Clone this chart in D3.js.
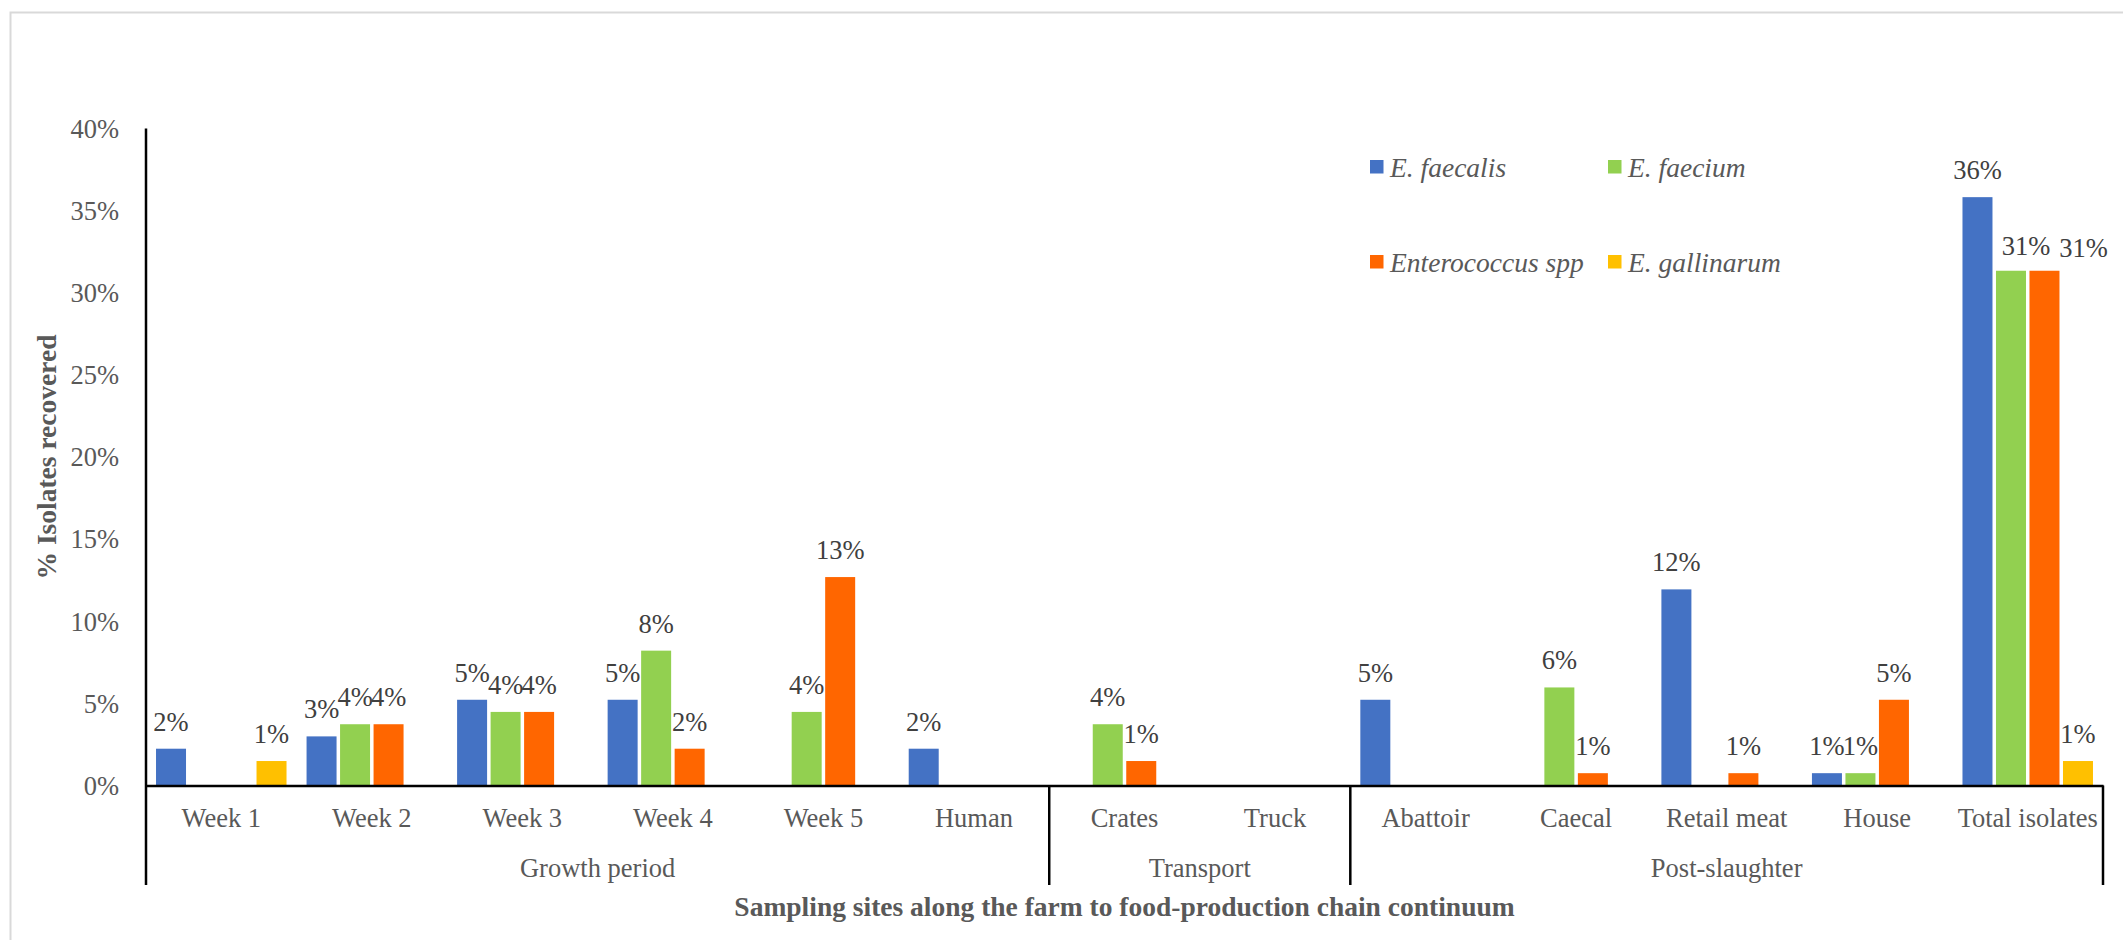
<!DOCTYPE html>
<html>
<head>
<meta charset="utf-8">
<script src="https://cdn.jsdelivr.net/npm/d3@7"></script>
<style>
  html, body { margin: 0; padding: 0; background: #ffffff; }
  svg { display: block; }
  text { font-family: "Liberation Serif", "Times New Roman", serif; }
</style>
</head>
<body>
<svg id="chart" width="2123" height="940" font-family="Liberation Serif"></svg>
<script>
// Sampling sites (x categories) and the stage each run of sites belongs to
const categories = ["Week 1", "Week 2", "Week 3", "Week 4", "Week 5", "Human",
                    "Crates", "Truck",
                    "Abattoir", "Caecal", "Retail meat", "House", "Total isolates"];
const groupNames = ["Growth period", "Transport", "Post-slaughter"];
const groupSizes = [6, 2, 5];

// Species shown as bars, in drawing order
const seriesNames = ["E. faecalis", "E. faecium", "Enterococcus spp", "E. gallinarum"];
const seriesColors = ["#4472C4", "#92D050", "#FF6600", "#FFC000"];

// % of isolates recovered at each site (null = none recovered)
const faecalis   = [2.24, 2.99, 5.22, 5.22, null, 2.24, null, null, 5.22, null, 11.94, 0.75, 35.82];
const faecium    = [null, 3.73, 4.48, 8.21, 4.48, null, 3.73, null, null, 5.97, null, 0.75, 31.34];
const sppValues  = [null, 3.73, 4.48, 2.24, 12.69, null, 1.49, null, null, 0.75, 0.75, 5.22, 31.34];
const gallinarum = [1.49, null, null, null, null, null, null, null, null, null, null, null, 1.49];
const seriesValues = [faecalis, faecium, sppValues, gallinarum];

// Y-axis ticks (percent)
const yTicks = [0, 5, 10, 15, 20, 25, 30, 35, 40];

const svg = d3.select("#chart");
const W = 2123, H = 940;

// outer chart frame
svg.append("rect")
  .attr("x", 10.5).attr("y", 12.5)
  .attr("width", W + 20).attr("height", H + 20)
  .attr("fill", "#ffffff")
  .attr("stroke", "#d9d9d9").attr("stroke-width", 2);

const plot = { left: 146, right: 2103, top: 128.5, bottom: 785.5, axisFoot: 885 };

const x0 = d3.scaleBand()
  .domain(categories)
  .range([plot.left, plot.right])
  .paddingInner(0.1331)
  .paddingOuter(0.1331 / 2);

const x1 = d3.scaleBand()
  .domain(seriesNames)
  .range([0, x0.bandwidth()])
  .paddingInner(0.1045)
  .paddingOuter(0);

const y = d3.scaleLinear().domain([0, 40]).range([plot.bottom, plot.top]);

const pct = d3.format(".0%");
const textGray = "#595959";

// Y tick labels
const yAxis = svg.append("g")
  .attr("transform", `translate(${plot.left},0)`)
  .call(d3.axisLeft(y).tickValues(yTicks).tickSize(0).tickPadding(27)
        .tickFormat(d => pct(d / 100)))
  .attr("font-family", null);
yAxis.select(".domain").remove();
yAxis.selectAll("text")
  .attr("font-size", 26.5)
  .attr("fill", textGray)
  .attr("dy", "0.33em");

// Bars
const rows = categories.map((c, i) => ({ cat: c, i }));
const catG = svg.append("g").selectAll("g")
  .data(rows).join("g")
  .attr("transform", d => `translate(${x0(d.cat)},0)`);

const barData = d => seriesNames.map((s, k) => ({ s, k, v: seriesValues[k][d.i], cat: d.cat }))
  .filter(b => b.v !== null);

catG.selectAll("rect")
  .data(barData).join("rect")
  .attr("x", b => x1(b.s))
  .attr("width", x1.bandwidth())
  .attr("y", b => y(b.v))
  .attr("height", b => y(0) - y(b.v))
  .attr("fill", b => seriesColors[b.k]);

// Data labels; two crowded labels on the totals are nudged apart
const labelNudge = {
  "Total isolates|E. faecium": [15, 2],
  "Total isolates|Enterococcus spp": [39, 4]
};
catG.selectAll("text.val")
  .data(barData).join("text")
  .attr("class", "val")
  .attr("x", b => x1(b.s) + x1.bandwidth() / 2 + (labelNudge[b.cat + "|" + b.s] || [0, 0])[0])
  .attr("y", b => y(b.v) - 18 + (labelNudge[b.cat + "|" + b.s] || [0, 0])[1])
  .attr("text-anchor", "middle")
  .attr("font-size", 26.5)
  .attr("fill", "#404040")
  .text(b => pct(b.v / 100));

// Category axis: baseline + labels
const xAxis = svg.append("g")
  .attr("transform", `translate(0,${plot.bottom})`)
  .call(d3.axisBottom(x0).tickSize(0).tickSizeOuter(0).tickPadding(0))
  .attr("font-family", null);
xAxis.select(".domain")
  .attr("stroke", "#000").attr("stroke-width", 2.5);
xAxis.selectAll("text")
  .attr("font-size", 26.5)
  .attr("fill", textGray)
  .attr("y", 41.5)
  .attr("dy", null);

// Vertical axis line and group separators
const step = x0.step();
const bounds = [0];
groupSizes.forEach(n => bounds.push(bounds[bounds.length - 1] + n));

svg.append("line")
  .attr("x1", plot.left).attr("x2", plot.left)
  .attr("y1", plot.top).attr("y2", plot.axisFoot)
  .attr("stroke", "#000").attr("stroke-width", 2.5);

svg.append("g").selectAll("line")
  .data(bounds.slice(1))
  .join("line")
  .attr("x1", b => plot.left + b * step).attr("x2", b => plot.left + b * step)
  .attr("y1", plot.bottom).attr("y2", plot.axisFoot)
  .attr("stroke", "#000").attr("stroke-width", 2.5);

// Group labels
svg.append("g").selectAll("text")
  .data(groupNames)
  .join("text")
  .attr("x", (g, i) => plot.left + (bounds[i] + bounds[i + 1]) / 2 * step)
  .attr("y", 877)
  .attr("text-anchor", "middle")
  .attr("font-size", 26.5)
  .attr("fill", textGray)
  .text(g => g);

// Axis titles
svg.append("text")
  .attr("x", (plot.left + plot.right) / 2)
  .attr("y", 916)
  .attr("text-anchor", "middle")
  .attr("font-size", 27.5)
  .attr("font-weight", "bold")
  .attr("fill", textGray)
  .text("Sampling sites along the farm to food-production chain continuum");

svg.append("text")
  .attr("transform", `translate(56,${(plot.top + plot.bottom) / 2}) rotate(-90)`)
  .attr("text-anchor", "middle")
  .attr("font-size", 27.5)
  .attr("font-weight", "bold")
  .attr("fill", textGray)
  .text("% Isolates recovered");

// Legend (2 x 2)
const legendPos = [[1370, 160], [1608, 160], [1370, 255], [1608, 255]];
const legend = svg.append("g").selectAll("g")
  .data(seriesNames)
  .join("g")
  .attr("transform", (s, k) => `translate(${legendPos[k][0]},${legendPos[k][1]})`);
legend.append("rect")
  .attr("width", 13.5).attr("height", 13.5)
  .attr("fill", (s, k) => seriesColors[k]);
legend.append("text")
  .attr("x", 20).attr("y", 16.5)
  .attr("font-size", 27.5)
  .attr("font-style", "italic")
  .attr("fill", textGray)
  .text(s => s);
</script>
</body>
</html>
